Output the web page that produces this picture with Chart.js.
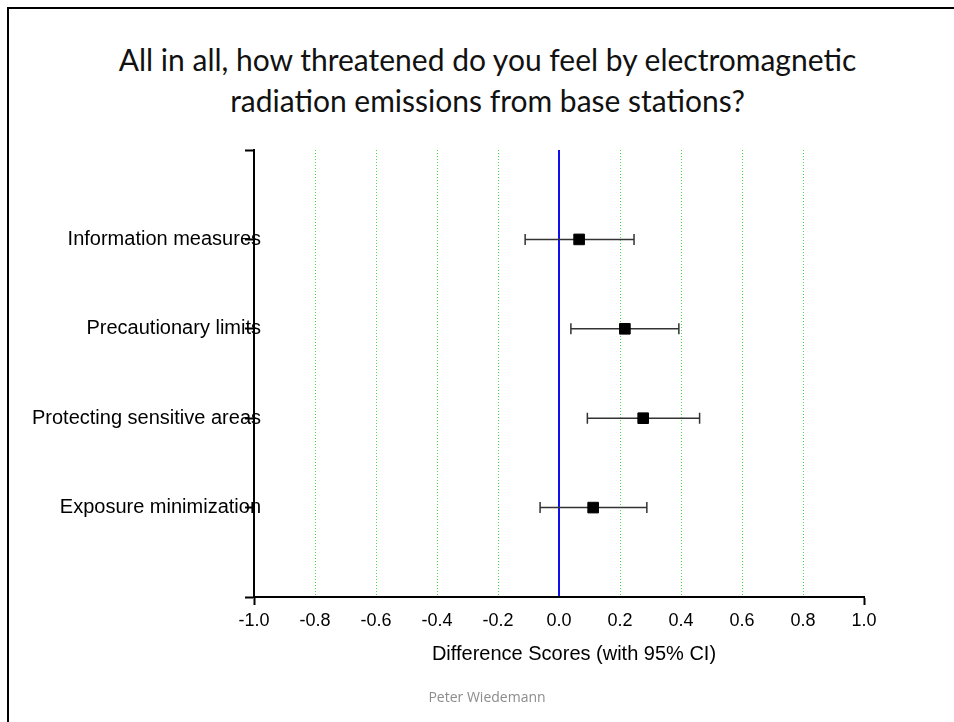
<!DOCTYPE html>
<html>
<head>
<meta charset="utf-8">
<script src="https://cdn.jsdelivr.net/npm/chart.js@4"></script>
<style>
  html, body { margin:0; padding:0; background:#fff; }
  #wrap { position:relative; width:954px; height:722px; overflow:hidden; }
  #frame { position:absolute; left:7px; top:7px; width:960px; height:730px; border-top:2px solid #000; border-left:2px solid #000; }
  #title { position:absolute; left:0; width:975px; top:39px; text-align:center; font-family:Lato,"Open Sans",sans-serif; font-size:30px; line-height:41px; color:#111; }
  #xtitle { position:absolute; left:324px; width:500px; top:642px; text-align:center; font-family:"Liberation Sans",Arial,sans-serif; font-size:20px; color:#000; }
  #footer { position:absolute; left:387px; width:200px; top:687px; text-align:center; font-family:"Open Sans",sans-serif; font-size:14px; color:#8c8c8c; }
  canvas { position:absolute; left:0; top:0; }
</style>
</head>
<body>
<div id="wrap">
  <div id="frame"></div>
  <div id="title">All in all, how threatened do you feel by electromagnetic<br>radiation emissions from base stations?</div>
  <canvas id="c" width="954" height="722"></canvas>
  <div id="xtitle">Difference Scores (with 95% CI)</div>
  <div id="footer">Peter Wiedemann</div>
</div>
<script>
const categories = ['Information measures', 'Precautionary limits', 'Protecting sensitive areas', 'Exposure minimization'];
const means = [0.066, 0.216, 0.276, 0.112];
const lower = [-0.111, 0.039, 0.093, -0.062];
const upper = [0.246, 0.393, 0.461, 0.288];
const xMin = -1.0, xMax = 1.0, xStep = 0.2;

const points = categories.map((c, i) => ({ x: means[i], y: i + 1 }));

const catFont = { family: '"Liberation Sans", Arial, sans-serif', size: 20 };
const mctx = document.createElement('canvas').getContext('2d');
mctx.font = catFont.size + 'px ' + catFont.family;
const widest = Math.max(...categories.map(c => mctx.measureText(c).width));

const errorBars = {
  id: 'errorBars',
  beforeDatasetsDraw(chart) {
    const { ctx, scales: { x, y } } = chart;
    ctx.save();
    categories.forEach((c, i) => {
      const yp = y.getPixelForValue(i + 1);
      const x1 = x.getPixelForValue(lower[i]);
      const x2 = x.getPixelForValue(upper[i]);
      ctx.strokeStyle = '#333';
      ctx.lineWidth = 1.5;
      ctx.beginPath();
      ctx.moveTo(x1, yp); ctx.lineTo(x2, yp);
      ctx.moveTo(x1, yp - 5.5); ctx.lineTo(x1, yp + 5.5);
      ctx.moveTo(x2, yp - 5.5); ctx.lineTo(x2, yp + 5.5);
      ctx.stroke();
    });
    ctx.restore();
  }
};

const isEnd = v => Math.abs(v - xMin) < 1e-6 || Math.abs(v - xMax) < 1e-6;
const isZero = v => Math.abs(v) < 1e-6;

new Chart(document.getElementById('c'), {
  type: 'scatter',
  data: {
    datasets: [{
      data: points,
      pointStyle: 'rect',
      pointRadius: 7.5,
      pointHoverRadius: 7.5,
      backgroundColor: '#000',
      borderColor: '#000',
      borderWidth: 1
    }]
  },
  options: {
    responsive: false,
    animation: false,
    events: [],
    layout: { padding: { left: 0, right: 90, top: 150, bottom: 85 } },
    plugins: { legend: { display: false }, tooltip: { enabled: false }, title: { display: false } },
    scales: {
      x: {
        type: 'linear', min: xMin, max: xMax,
        afterFit(s) { s.height = 40; },
        afterBuildTicks(s) {
          const t = [];
          for (let k = 0; k <= Math.round((xMax - xMin) / xStep); k++) t.push({ value: +(xMin + k * xStep).toFixed(1) });
          s.ticks = t;
        },
        ticks: {
          padding: 5,
          color: '#000',
          font: { family: '"Liberation Sans", Arial, sans-serif', size: 18 },
          callback: v => v.toFixed(1)
        },
        grid: {
          drawOnChartArea: true,
          tickLength: 8,
          lineWidth: ctx => isZero(ctx.tick.value) ? 2 : 1,
          color: ctx => isEnd(ctx.tick.value) ? 'rgba(0,0,0,0)' : (isZero(ctx.tick.value) ? '#1010ee' : '#44e044'),
          tickColor: ctx => isEnd(ctx.tick.value) ? '#000' : 'rgba(0,0,0,0)',
          tickWidth: 2
        },
        border: {
          display: true, color: '#000', width: 2,
          dash: ctx => (ctx.tick && isZero(ctx.tick.value)) ? [] : [1, 2]
        }
      },
      y: {
        type: 'linear', min: 0, max: 5, reverse: true,
        afterFit(s) { s.width = 254; },
        afterBuildTicks(s) { s.ticks = [0, 1, 2, 3, 4, 5].map(v => ({ value: v })); },
        ticks: {
          mirror: true,
          crossAlign: 'far',
          padding: 7 - widest,
          color: '#000',
          font: catFont,
          callback: v => (v >= 1 && v <= categories.length) ? categories[v - 1] : ''
        },
        grid: {
          drawOnChartArea: false,
          tickLength: 9,
          tickColor: '#000',
          tickWidth: 2
        },
        border: { display: true, color: '#000', width: 2 }
      }
    }
  },
  plugins: [errorBars]
});
</script>
</body>
</html>
